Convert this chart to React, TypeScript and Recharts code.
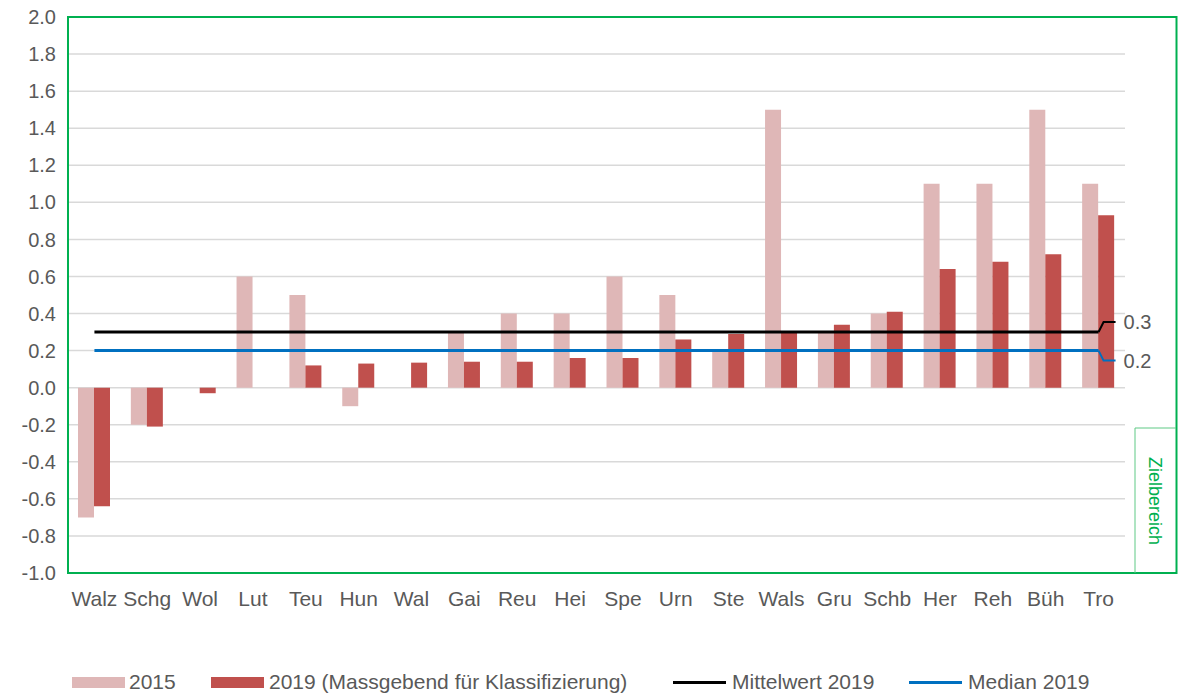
import React from 'react';
import {
  ComposedChart,
  Bar,
  Line,
  XAxis,
  YAxis,
  CartesianGrid,
  Legend,
  Customized,
} from 'recharts';

const categories = [
  'Walz', 'Schg', 'Wol', 'Lut', 'Teu', 'Hun', 'Wal', 'Gai', 'Reu', 'Hei',
  'Spe', 'Urn', 'Ste', 'Wals', 'Gru', 'Schb', 'Her', 'Reh', 'Büh', 'Tro',
];

const values2015 = [
  -0.7, -0.2, null, 0.6, 0.5, -0.1, null, 0.3, 0.4, 0.4,
  0.6, 0.5, 0.2, 1.5, 0.3, 0.4, 1.1, 1.1, 1.5, 1.1,
];

const values2019 = [
  -0.64, -0.21, -0.03, null, 0.12, 0.13, 0.135, 0.14, 0.14, 0.16,
  0.16, 0.26, 0.29, 0.3, 0.34, 0.41, 0.64, 0.68, 0.72, 0.93,
];

const mittelwert2019 = [
  0.3, 0.3, 0.3, 0.3, 0.3, 0.3, 0.3, 0.3, 0.3, 0.3,
  0.3, 0.3, 0.3, 0.3, 0.3, 0.3, 0.3, 0.3, 0.3, 0.3,
];

const median2019 = [
  0.2, 0.2, 0.2, 0.2, 0.2, 0.2, 0.2, 0.2, 0.2, 0.2,
  0.2, 0.2, 0.2, 0.2, 0.2, 0.2, 0.2, 0.2, 0.2, 0.2,
];

const yTicks = [-1.0, -0.8, -0.6, -0.4, -0.2, 0.0, 0.2, 0.4, 0.6, 0.8, 1.0, 1.2, 1.4, 1.6, 1.8, 2.0];

const data = categories.map((name, i) => ({
  name,
  v2015: values2015[i],
  v2019: values2019[i],
  mean: mittelwert2019[i],
  median: median2019[i],
}));

const FONT = '"Liberation Sans", Arial, sans-serif';
const TEXT = '#595959';
const GREEN = '#00b050';
const PINK = '#dfb7b7';
const RED = '#c0504d';
const BLUE = '#0070c0';

const W = 1178;
const H = 697;
const M = { top: 17, right: 53, left: 0, bottom: 0 };

// green frame around the plot plus the "Zielbereich" box on the right
const Frame = () => (
  <g>
    <rect x={68} y={17} width={1108.5} height={556} fill="none" stroke={GREEN} strokeWidth={2} />
    <line x1={1135} y1={428} x2={1135} y2={573} stroke="#5fc985" strokeWidth={1} />
    <line x1={1135} y1={428} x2={1176} y2={428} stroke="#5fc985" strokeWidth={1} />
    <text
      x={1155}
      y={501}
      transform="rotate(90 1155 501)"
      textAnchor="middle"
      dominantBaseline="central"
      fill={GREEN}
      fontSize={18}
      fontFamily={FONT}
    >
      Zielbereich
    </text>
  </g>
);

const endLabel = (text: string, color: string, dir: number) => (props: any) => {
  const { x, y, index } = props;
  if (index !== categories.length - 1) return <g />;
  const ty = y + dir * 10;
  return (
    <g>
      <polyline
        points={`${x},${y} ${x + 5},${ty} ${x + 17},${ty}`}
        fill="none"
        stroke={color}
        strokeWidth={2}
      />
      <text x={x + 25} y={ty} dominantBaseline="central" fill={TEXT} fontSize={20} fontFamily={FONT}>
        {text}
      </text>
    </g>
  );
};

const legendItems = [
  { label: '2015', type: 'rect', color: PINK, left: 72, textLeft: 129 },
  { label: '2019 (Massgebend für Klassifizierung)', type: 'rect', color: RED, left: 211, textLeft: 269 },
  { label: 'Mittelwert 2019', type: 'line', color: '#000000', left: 673, textLeft: 732 },
  { label: 'Median 2019', type: 'line', color: BLUE, left: 909, textLeft: 968 },
];

const renderLegend = () => (
  <div style={{ position: 'relative', width: W, height: 30, fontFamily: FONT, fontSize: 21, color: TEXT }}>
    {legendItems.map((it) => (
      <React.Fragment key={it.label}>
        <div
          style={{
            position: 'absolute',
            left: it.left,
            top: it.type === 'rect' ? 10 : 14,
            width: 53,
            height: it.type === 'rect' ? 11 : 3,
            background: it.color,
          }}
        />
        <div style={{ position: 'absolute', left: it.textLeft, top: 3, lineHeight: '24px', whiteSpace: 'nowrap' }}>
          {it.label}
        </div>
      </React.Fragment>
    ))}
  </div>
);

export default function App() {
  return (
    <div style={{ position: 'absolute', left: 0, top: 0, width: W, height: H, background: '#fff' }}>
      <ComposedChart width={W} height={H} data={data} margin={M} barGap={0} barCategoryGap="20%">
        <CartesianGrid vertical={false} stroke="#d9d9d9" strokeWidth={1.5} />
        <XAxis
          dataKey="name"
          interval={0}
          height={94}
          axisLine={false}
          tickLine={false}
          tickSize={0}
          tickMargin={18}
          tick={{ fill: TEXT, fontSize: 21, fontFamily: FONT }}
        />
        <YAxis
          type="number"
          domain={[-1, 2]}
          ticks={yTicks}
          interval={0}
          width={68}
          axisLine={false}
          tickLine={false}
          tickSize={0}
          tickMargin={12}
          tickFormatter={(v: number) => v.toFixed(1)}
          tick={{ fill: TEXT, fontSize: 20, fontFamily: FONT }}
        />
        <Bar dataKey="v2015" name="2015" fill={PINK} barSize={16} isAnimationActive={false} />
        <Bar dataKey="v2019" name="2019 (Massgebend für Klassifizierung)" fill={RED} barSize={16} isAnimationActive={false} />
        <Line
          dataKey="mean"
          name="Mittelwert 2019"
          stroke="#000000"
          strokeWidth={3}
          dot={false}
          isAnimationActive={false}
          label={endLabel('0.3', '#000000', -1)}
        />
        <Line
          dataKey="median"
          name="Median 2019"
          stroke={BLUE}
          strokeWidth={3}
          dot={false}
          isAnimationActive={false}
          label={endLabel('0.2', BLUE, 1)}
        />
        <Legend
          verticalAlign="bottom"
          height={30}
          content={renderLegend}
          wrapperStyle={{ left: 0, width: W }}
        />
        <Customized component={Frame} />
      </ComposedChart>
    </div>
  );
}
